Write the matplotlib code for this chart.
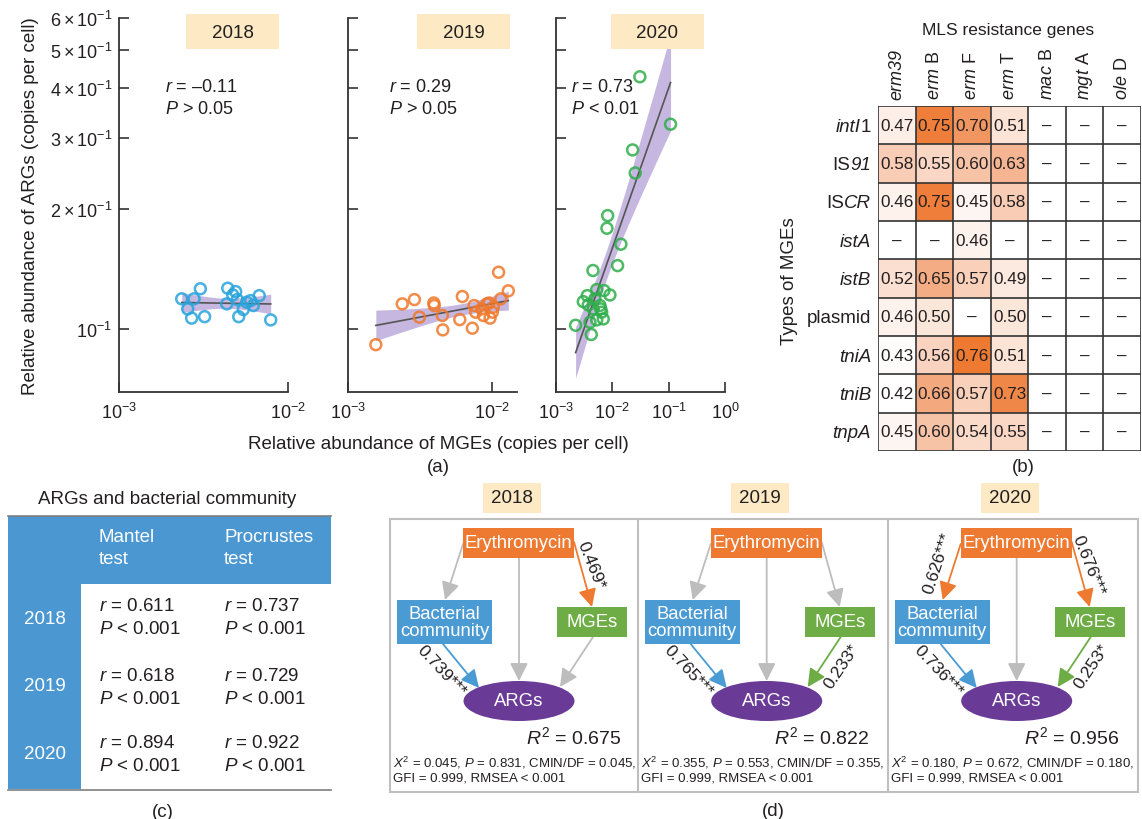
import numpy as np
import matplotlib
matplotlib.use("Agg")
import matplotlib.pyplot as plt
from matplotlib.patches import Rectangle, Ellipse
from matplotlib.colors import LinearSegmentedColormap
from matplotlib.ticker import NullLocator

plt.rcParams['font.family'] = 'Liberation Sans'
plt.rcParams['mathtext.fontset'] = 'custom'
plt.rcParams['mathtext.rm'] = 'Liberation Sans'
plt.rcParams['mathtext.it'] = 'Liberation Sans:italic'
plt.rcParams['mathtext.bf'] = 'Liberation Sans:bold'

W, H = 1142, 820
TXT = '#231F20'

# ---- (a) MGEs vs ARGs ----
years = ["2018", "2019", "2020"]
mge_2018 = [0.00235, 0.00278, 0.00303, 0.00255, 0.00269, 0.00321, 0.00440, 0.00490, 0.00471,
            0.00434, 0.00501, 0.00544, 0.00570, 0.00601, 0.00623, 0.00676, 0.00511, 0.00790]
arg_2018 = [0.1189, 0.1189, 0.1260, 0.1122, 0.1064, 0.1073, 0.1264, 0.1240, 0.1216,
            0.1155, 0.1184, 0.1118, 0.1166, 0.1177, 0.1144, 0.1211, 0.1073, 0.1053]
mge_2019 = [0.00156, 0.00238, 0.00289, 0.00313, 0.00394, 0.00397, 0.00452, 0.00455, 0.00622,
            0.00597, 0.00730, 0.00750, 0.00770, 0.00848, 0.00919, 0.00953, 0.00968, 0.01005,
            0.00871, 0.01110, 0.01150, 0.01297, 0.01020]
arg_2019 = [0.0913, 0.1155, 0.1184, 0.1070, 0.1161, 0.1144, 0.1080, 0.0994, 0.1205,
            0.1055, 0.1004, 0.1144, 0.1101, 0.1122, 0.1155, 0.1161, 0.1064, 0.1101,
            0.1080, 0.1386, 0.1189, 0.1245, 0.1133]
mge_2020 = [0.0308, 0.108, 0.0229, 0.0255, 0.00826, 0.00802, 0.0142, 0.0124, 0.00453,
            0.00223, 0.00423, 0.00305, 0.00359, 0.00527, 0.0071, 0.00906, 0.00374, 0.00401,
            0.00527, 0.0069, 0.00621, 0.00603, 0.00646, 0.00491, 0.00459]
arg_2020 = [0.4276, 0.3253, 0.2805, 0.2456, 0.1921, 0.1786, 0.1629, 0.1440, 0.1400,
            0.1021, 0.0968, 0.1170, 0.1211, 0.1254, 0.1247, 0.1216, 0.1148, 0.1039,
            0.1053, 0.1059, 0.1122, 0.1144, 0.1101, 0.1189, 0.1122]
r_text = ["\u20130.11", "0.29", "0.73"]
p_text = ["> 0.05", "> 0.05", "< 0.01"]
y_ticks = [0.1, 0.2, 0.3, 0.4, 0.5, 0.6]
y_ticklabels = [r"$10^{-1}$", r"$2\times10^{-1}$", r"$3\times10^{-1}$",
                r"$4\times10^{-1}$", r"$5\times10^{-1}$", r"$6\times10^{-1}$"]

# ---- (b) correlation MGEs x MLS genes (nan = not significant) ----
mls_genes = ["erm39", r"$\mathit{erm}$ B", r"$\mathit{erm}$ F", r"$\mathit{erm}$ T",
             r"$\mathit{mac}$ B", r"$\mathit{mgt}$ A", r"$\mathit{ole}$ D"]
# row labels as (text, italic) pieces
mge_types = [[("intI", True), ("1", False)],
             [("IS", False), ("91", True)],
             [("IS", False), ("CR", True)],
             [("istA", True)],
             [("istB", True)],
             [("plasmid", False)],
             [("tniA", True)],
             [("tniB", True)],
             [("tnpA", True)]]
nan = np.nan
corr = [[0.47, 0.75, 0.70, 0.51, nan, nan, nan],
        [0.58, 0.55, 0.60, 0.63, nan, nan, nan],
        [0.46, 0.75, 0.45, 0.58, nan, nan, nan],
        [nan, nan, 0.46, nan, nan, nan, nan],
        [0.52, 0.65, 0.57, 0.49, nan, nan, nan],
        [0.46, 0.50, nan, 0.50, nan, nan, nan],
        [0.43, 0.56, 0.76, 0.51, nan, nan, nan],
        [0.42, 0.66, 0.57, 0.73, nan, nan, nan],
        [0.45, 0.60, 0.54, 0.55, nan, nan, nan]]

# ---- (c) Mantel / Procrustes ----
mantel_r = ["0.611", "0.618", "0.894"]
procrustes_r = ["0.737", "0.729", "0.922"]
test_p = ["< 0.001", "< 0.001", "< 0.001"]

# ---- (d) SEM ----
sem_r2 = ["0.675", "0.822", "0.956"]
sem_chi2 = ["0.045", "0.355", "0.180"]
sem_p = ["0.831", "0.553", "0.672"]
sem_cmin = ["0.045", "0.355", "0.180"]
sem_paths = [
    {"ery_bac": None, "ery_arg": None, "ery_mge": "0.469*", "bac_arg": "0.739***", "mge_arg": None},
    {"ery_bac": None, "ery_arg": None, "ery_mge": None, "bac_arg": "0.765***", "mge_arg": "0.233*"},
    {"ery_bac": "0.626***", "ery_arg": None, "ery_mge": "0.676***", "bac_arg": "0.736***", "mge_arg": "0.253*"},
]


def px_rect(x0, y0, x1, y1):
    return [x0 / W, 1 - y1 / H, (x1 - x0) / W, (y1 - y0) / H]


def fit_band(x, y):
    # log-log linear fit with 95% confidence band
    lx, ly = np.log10(x), np.log10(y)
    n = len(lx)
    b, a = np.polyfit(lx, ly, 1)
    xs = np.linspace(lx.min(), lx.max(), 100)
    yhat = a + b * xs
    resid = ly - (a + b * lx)
    s = np.sqrt(np.sum(resid ** 2) / (n - 2))
    se = s * np.sqrt(1 / n + (xs - lx.mean()) ** 2 / np.sum((lx - lx.mean()) ** 2))
    t = 2.07
    return 10 ** xs, 10 ** yhat, 10 ** (yhat - t * se), 10 ** (yhat + t * se)


def main():
    fig = plt.figure(figsize=(W / 100, H / 100), dpi=100)

    # ---------- (a) ----------
    sc_boxes = [(119, 288), (348, 517), (556, 725)]
    xmaxes = [1e-2, 0.0149, 1e0]
    xticks = [[1e-3, 1e-2], [1e-3, 1e-2], [1e-3, 1e-2, 1e-1, 1e0]]
    xlabs = {1e-3: r"$10^{-3}$", 1e-2: r"$10^{-2}$", 1e-1: r"$10^{-1}$", 1e0: r"$10^{0}$"}
    colors = ['#27A4DC', '#F0782A', '#2FAE4B']
    xs_all = [mge_2018, mge_2019, mge_2020]
    ys_all = [arg_2018, arg_2019, arg_2020]
    for i in range(3):
        x0, x1 = sc_boxes[i]
        ax = fig.add_axes(px_rect(x0, 19, x1, 393))
        ax.set_xscale('log')
        ax.set_yscale('log')
        x = np.array(xs_all[i])
        y = np.array(ys_all[i])
        fx, fy, lo, hi = fit_band(x, y)
        ax.fill_between(fx, lo, hi, color='#8C70C0', alpha=0.5, lw=0, zorder=1)
        ax.plot(fx, fy, color='#555555', lw=1.2, zorder=2)
        ax.scatter(x, y, s=62, facecolors='none', edgecolors=colors[i], linewidths=1.8,
                   alpha=0.85, zorder=3)
        ax.set_xlim(1e-3, xmaxes[i])
        ax.set_ylim(0.0695, 0.6)
        for s in ['top', 'right']:
            ax.spines[s].set_visible(False)
        for s in ['left', 'bottom']:
            ax.spines[s].set_color('#333333')
            ax.spines[s].set_linewidth(1.3)
        ax.set_yticks(y_ticks)
        ax.set_yticklabels(y_ticklabels if i == 0 else [])
        ax.set_xticks(xticks[i])
        ax.set_xticklabels([xlabs[v] for v in xticks[i]])
        ax.xaxis.set_minor_locator(NullLocator())
        ax.yaxis.set_minor_locator(NullLocator())
        ax.tick_params(direction='in', length=7, width=1.2, color='#333333',
                       labelsize=13, labelcolor=TXT)
        ax.tick_params(axis='x', pad=7)
        ax.tick_params(axis='y', pad=5)
        ax.patch.set_alpha(0)

    # ---------- (b) ----------
    axh = fig.add_axes(px_rect(878, 107, 1141, 452))
    cmap = LinearSegmentedColormap.from_list(
        'wo', [(0, '#FFFFFF'), (0.45, '#F9D0BA'), (0.8, '#F29A68'), (1, '#EE7A32')])
    data = np.array(corr, dtype=float)
    axh.imshow(np.ma.masked_invalid(data), cmap=cmap, vmin=0.42, vmax=0.76,
               aspect='auto', extent=(-0.5, 6.5, 8.5, -0.5))
    for r in range(data.shape[0]):
        for c in range(data.shape[1]):
            v = data[r, c]
            lab = "\u2013" if np.isnan(v) else "%.2f" % v
            axh.text(c, r, lab, ha='center', va='center', fontsize=12.3, color=TXT)
    for r in range(data.shape[0] + 1):
        axh.axhline(r - 0.5, color='#333333', lw=1.2)
    for c in range(data.shape[1] + 1):
        axh.axvline(c - 0.5, color='#333333', lw=1.2)
    axh.set_xlim(-0.5, 6.5)
    axh.set_ylim(8.5, -0.5)
    axh.xaxis.tick_top()
    axh.set_xticks(range(len(mls_genes)))
    axh.set_xticklabels(mls_genes, rotation=90, fontsize=13, color=TXT)
    axh.get_xticklabels()[0].set_fontstyle('italic')
    axh.set_yticks([])
    axh.tick_params(length=0, pad=5)
    for s in axh.spines.values():
        s.set_visible(False)

    # ---------- overlay in pixel coordinates ----------
    ov = fig.add_axes([0, 0, 1, 1])
    ov.set_xlim(0, W)
    ov.set_ylim(H, 0)
    ov.axis('off')
    renderer = fig.canvas.get_renderer()

    # (a) annotations
    year_cx = [232.5, 463.7, 657.2]
    text_x = [165, 389, 571]
    for i in range(3):
        ov.add_patch(Rectangle((year_cx[i] - 46.5, 15), 93, 35, color='#FDEAC4', lw=0))
        ov.text(year_cx[i], 33, years[i], ha='center', va='center', fontsize=13.5, color=TXT)
        ov.text(text_x[i], 87, "$r$ = " + r_text[i], ha='left', va='center', fontsize=13, color=TXT)
        ov.text(text_x[i], 109, "$P$ " + p_text[i], ha='left', va='center', fontsize=13, color=TXT)
    ov.text(438, 445, "Relative abundance of MGEs (copies per cell)", ha='center', va='center',
            fontsize=13.5, color=TXT)
    ov.text(438, 468, "(a)", ha='center', va='center', fontsize=13.5, color=TXT)
    ov.text(31, 206, "Relative abundance of ARGs (copies per cell)", ha='center', va='center',
            rotation=90, fontsize=13.5, color=TXT)

    # (b) annotations
    ov.text(1008, 30, "MLS resistance genes", ha='center', va='center', fontsize=12.5, color=TXT)
    ov.text(789, 281, "Types of MGEs", ha='center', va='center', rotation=90, fontsize=13.5, color=TXT)
    ov.text(1023, 468, "(b)", ha='center', va='center', fontsize=13.5, color=TXT)
    row_h = (452 - 107) / len(mge_types)
    for r, pieces in enumerate(mge_types):
        xr = 871
        yb = 107 + (r + 0.5) * row_h + 5.5
        for txt, ital in reversed(pieces):
            t = ov.text(xr, yb, txt, ha='right', va='baseline', fontsize=13.5, color=TXT,
                        fontstyle='italic' if ital else 'normal')
            xr -= t.get_window_extent(renderer).width

    # (c) table
    blue = '#4B97D2'
    ov.text(167, 500, "ARGs and bacterial community", ha='center', va='center', fontsize=13.5, color=TXT)
    ov.add_patch(Rectangle((8, 517), 323, 68, color=blue, lw=0))
    ov.add_patch(Rectangle((8, 585), 73, 205, color=blue, lw=0))
    ov.plot([8, 331], [516.5, 516.5], color='#7F7F7F', lw=1.2)
    ov.plot([8, 331], [790.5, 790.5], color='#7F7F7F', lw=1.2)
    ov.text(99, 538, "Mantel", ha='left', va='center', fontsize=13.5, color='white')
    ov.text(99, 560, "test", ha='left', va='center', fontsize=13.5, color='white')
    ov.text(224, 538, "Procrustes", ha='left', va='center', fontsize=13.5, color='white')
    ov.text(224, 560, "test", ha='left', va='center', fontsize=13.5, color='white')
    row_y = [607, 677, 744]
    year_y = [620, 687, 755]
    for i in range(3):
        ov.text(45, year_y[i], years[i], ha='center', va='center', fontsize=13.5, color='white')
        ov.text(99, row_y[i], "$r$ = " + mantel_r[i], ha='left', va='center', fontsize=13.5, color=TXT)
        ov.text(99, row_y[i] + 23, "$P$ " + test_p[i], ha='left', va='center', fontsize=13.5, color=TXT)
        ov.text(224, row_y[i], "$r$ = " + procrustes_r[i], ha='left', va='center', fontsize=13.5, color=TXT)
        ov.text(224, row_y[i] + 23, "$P$ " + test_p[i], ha='left', va='center', fontsize=13.5, color=TXT)
    ov.text(163, 813, "(c)", ha='center', va='center', fontsize=13.5, color=TXT)

    # (d) SEM diagrams
    frame = '#BFBFBF'
    ov.add_patch(Rectangle((390, 520), 748, 272.5, fill=False, ec=frame, lw=1.5))
    ov.plot([637.7, 637.7], [520, 792.5], color=frame, lw=1.5)
    ov.plot([887.7, 887.7], [520, 792.5], color=frame, lw=1.5)
    ov.text(773, 812, "(d)", ha='center', va='center', fontsize=13.5, color=TXT)
    sub_x0 = [390, 637.7, 887.7]
    orange, bblue, green, purple = '#EE7A32', '#4A9AD4', '#6EAD45', '#6A3B96'
    geom = {"ery_bac": ((73, 545), (55, 601)),
            "ery_arg": ((129, 559), (129, 682)),
            "ery_mge": ((184, 543), (202, 608)),
            "bac_arg": ((53, 645), (89, 689)),
            "mge_arg": ((203, 638), (170, 688))}
    lab_pos = {"ery_bac": (50, 563, 72), "ery_mge": (201, 566, -68),
               "bac_arg": (51, 671, -47), "mge_arg": (204, 667, 56)}
    path_col = {"ery_bac": orange, "ery_arg": orange, "ery_mge": orange,
                "bac_arg": bblue, "mge_arg": green}
    for i in range(3):
        x0 = sub_x0[i]
        # year tag
        cx = x0 + 122
        ov.add_patch(Rectangle((cx - 29, 484), 58, 30, color='#FDEAC4', lw=0))
        ov.text(cx, 499, years[i], ha='center', va='center', fontsize=13.5, color=TXT)
        # arrows
        for key, ((sx, sy), (ex, ey)) in geom.items():
            coef = sem_paths[i][key]
            col = path_col[key] if coef else '#BDBDBD'
            ov.annotate("", xy=(x0 + ex, ey), xytext=(x0 + sx, sy),
                        arrowprops=dict(arrowstyle="-|>,head_length=0.72,head_width=0.36",
                                        color=col, lw=1.3, mutation_scale=15,
                                        shrinkA=0, shrinkB=0))
            if coef:
                lx, ly, rot = lab_pos[key]
                ov.text(x0 + lx, ly, coef, ha='center', va='center', rotation=rot,
                        rotation_mode='anchor', fontsize=12.5, color=TXT)
        # nodes
        ov.add_patch(Rectangle((x0 + 73, 529), 111, 30, color=orange, lw=0, zorder=3))
        ov.text(x0 + 128.5, 544, "Erythromycin", ha='center', va='center', fontsize=13.3,
                color='white', zorder=4)
        ov.add_patch(Rectangle((x0 + 7, 601), 95, 44, color=bblue, lw=0, zorder=3))
        ov.text(x0 + 54.5, 623, "Bacterial\ncommunity", ha='center', va='center', fontsize=13.3,
                color='white', linespacing=1.05, zorder=4)
        ov.add_patch(Rectangle((x0 + 167, 608), 70, 30, color=green, lw=0, zorder=3))
        ov.text(x0 + 202, 623, "MGEs", ha='center', va='center', fontsize=13.3,
                color='white', zorder=4)
        ov.add_patch(Ellipse((x0 + 129, 702), 111, 40, color=purple, lw=0, zorder=3))
        ov.text(x0 + 129, 702, "ARGs", ha='center', va='center', fontsize=13.3,
                color='white', zorder=4)
        ov.text(x0 + 232, 737, "$R^2$ = " + sem_r2[i], ha='right', va='center', fontsize=14,
                color=TXT)
        ov.text(x0 + 3, 763, "$X^2$ = %s, $P$ = %s, CMIN/DF = %s," % (sem_chi2[i], sem_p[i], sem_cmin[i]),
                ha='left', va='center', fontsize=9.5, color=TXT)
        ov.text(x0 + 3, 779, "GFI = 0.999, RMSEA < 0.001", ha='left', va='center',
                fontsize=9.5, color=TXT)

    fig.savefig("out.png", dpi=100)


if __name__ == "__main__":
    main()
